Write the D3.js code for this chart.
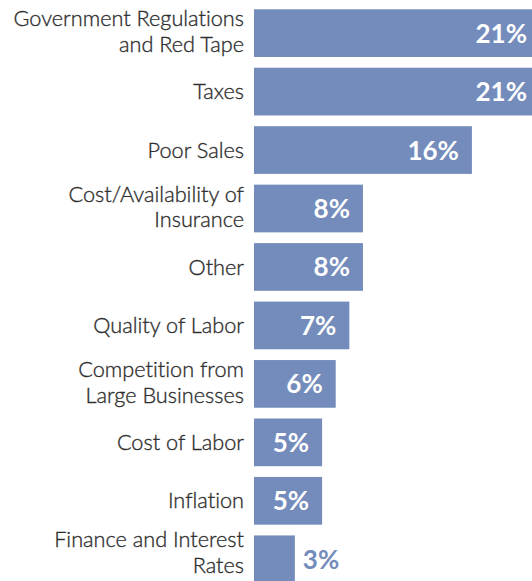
<!DOCTYPE html>
<html>
<head>
<meta charset="utf-8">
<script src="https://cdn.jsdelivr.net/npm/d3@7"></script>
<style>
  html, body { margin: 0; padding: 0; background: #fff; }
  svg { display: block; }
  text { font-variant-ligatures: none; }
</style>
</head>
<body>
<script>
// Biggest problems facing small businesses (share of responses)
const categories = [
  "Government Regulations\nand Red Tape",
  "Taxes",
  "Poor Sales",
  "Cost/Availability of\nInsurance",
  "Other",
  "Quality of Labor",
  "Competition from\nLarge Businesses",
  "Cost of Labor",
  "Inflation",
  "Finance and Interest\nRates"
];
const values = [21, 21, 16, 8, 8, 7, 6, 5, 5, 3];
const valueLabels = ["21%", "21%", "16%", "8%", "8%", "7%", "6%", "5%", "5%", "3%"];

const W = 532, H = 581;
const barColor = "#748cbb";
const textColor = "#2e2e2e";
const font = "Lato, 'Open Sans', sans-serif";

const svg = d3.select("body").append("svg")
  .attr("width", W).attr("height", H);

const x0 = 254;
const x = d3.scaleLinear().domain([0, 21]).range([x0, x0 + 286]);
const y = d3.scaleBand()
  .domain(d3.range(categories.length))
  .range([3.9, 588.5])
  .paddingInner(0.184)
  .paddingOuter(0.092);

const rows = svg.selectAll("g.row")
  .data(categories.map((c, i) => ({ c, v: values[i], lbl: valueLabels[i], i })))
  .join("g").attr("class", "row");

rows.append("rect")
  .attr("x", x(0))
  .attr("y", d => y(d.i))
  .attr("width", d => x(d.v) - x(0))
  .attr("height", y.bandwidth())
  .attr("fill", barColor);

// category labels, right-aligned to the left of the bars;
// the last line is kept clear of the bottom edge
const lineH = 25.7;
rows.append("text")
  .attr("text-anchor", "end")
  .attr("font-family", font)
  .attr("font-weight", 300)
  .attr("font-size", 21.7)
  .attr("fill", textColor)
  .attr("stroke", textColor)
  .attr("stroke-width", 0.35)
  .each(function(d) {
    const lines = d.c.split("\n");
    const cy = y(d.i) + y.bandwidth() / 2;
    let first = cy + 7.6 - (lines.length - 1) * (lineH / 2 + 1.5);
    const last = first + (lines.length - 1) * lineH;
    if (last > H - 8) first -= last - (H - 8);
    lines.forEach((ln, k) => {
      d3.select(this).append("tspan")
        .attr("x", x0 - 10)
        .attr("y", first + k * lineH)
        .text(ln);
    });
  });

// value labels: inside the bar when it fits, otherwise just beyond its end
rows.append("text")
  .attr("font-family", font)
  .attr("font-weight", 700)
  .attr("font-size", 26)
  .attr("y", d => y(d.i) + y.bandwidth() / 2 + 9.5)
  .each(function(d) {
    const inside = d.v >= 5;
    const endX = Math.min(x(d.v), W + 8);
    d3.select(this)
      .attr("x", inside ? endX - 13 : x(d.v) + 8)
      .attr("text-anchor", inside ? "end" : "start")
      .attr("fill", inside ? "#ffffff" : barColor)
      .text(d.lbl);
  });
</script>
</body>
</html>
